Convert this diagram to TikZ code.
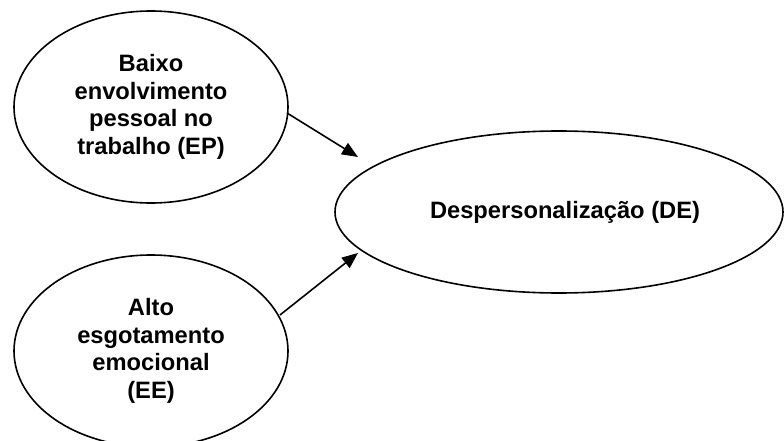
\documentclass[tikz,border=0pt]{standalone}
\usepackage{fontspec}
\setmainfont{Liberation Sans}
\usetikzlibrary{shapes.geometric,arrows.meta}
\begin{document}
\begin{tikzpicture}[x=1pt,y=-1pt,
  oval/.style={draw, line width=1.6pt, ellipse, inner sep=0pt, align=center,
    font=\fontsize{23.7}{27.5}\selectfont\bfseries},
  arr/.style={line width=1.6pt, -{Triangle[length=16pt,width=13pt]}}]
\useasboundingbox (0,0) rectangle (784,441);
\node[oval, minimum width=274pt, minimum height=192pt] (ep) at (151,107)
  {Baixo\\envolvimento\\pessoal no\\trabalho (EP)};
\node[oval, minimum width=274pt, minimum height=192pt] (ee) at (151,351)
  {Alto\\esgotamento\\emocional\\(EE)};
\node[oval, minimum width=448pt, minimum height=162pt] (de) at (559,212)
  {\hspace*{12pt}Despersonalização (DE)};
\coordinate (s1) at (287,113);
\coordinate (t1) at (358,157);
\coordinate (s2) at (280,315);
\coordinate (t2) at (358,253);
\draw[arr] (s1) -- (t1);
\draw[arr] (s2) -- (t2);
\end{tikzpicture}
\end{document}
